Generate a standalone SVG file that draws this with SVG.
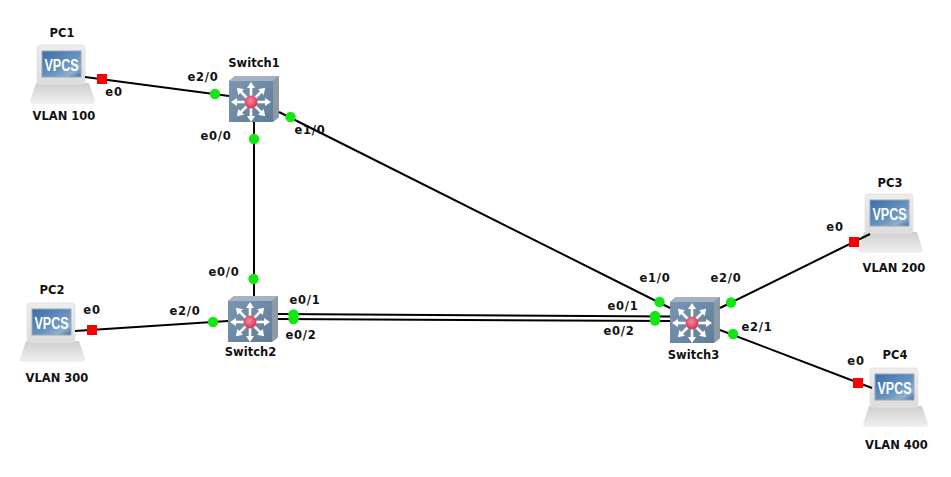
<svg xmlns="http://www.w3.org/2000/svg" width="951" height="477" viewBox="0 0 951 477">
<style>
text{font-family:"DejaVu Sans","Liberation Sans",sans-serif;font-size:11.5px;font-weight:700;fill:#111;text-anchor:middle}
.p{letter-spacing:.8px}
.vp{font-family:"Liberation Sans",sans-serif;font-size:16px;fill:#fff;letter-spacing:0}
.l{stroke:#000;stroke-width:2;fill:none}
.g{fill:#14e614}
.r{fill:#f00}
</style>
<defs>
<linearGradient id="scr" x1="0" y1="0" x2="1" y2="1"><stop offset="0" stop-color="#3a6ea6"/><stop offset=".6" stop-color="#6b96c2"/><stop offset=".8" stop-color="#8fb0d0"/><stop offset="1" stop-color="#3e6d9f"/></linearGradient>
<linearGradient id="mon" x1="0" y1="0" x2="0" y2="1"><stop offset="0" stop-color="#ededed"/><stop offset="1" stop-color="#dcdcdc"/></linearGradient>
<linearGradient id="bas" x1="0" y1="0" x2="0" y2="1"><stop offset="0" stop-color="#cfcfcf"/><stop offset="1" stop-color="#f0f0f0"/></linearGradient>
<linearGradient id="fac" x1="0" y1="0" x2="1" y2="1"><stop offset="0" stop-color="#7b96b0"/><stop offset="1" stop-color="#5f7d99"/></linearGradient>
<radialGradient id="led" cx=".45" cy=".4" r=".6"><stop offset="0" stop-color="#f58a9e"/><stop offset="1" stop-color="#d8304f"/></radialGradient>
<g id="ar"><path d="M-1.300 0H1.300V-15H-1.300Z" fill="#fff"/><path d="M0 -20L4 -14H-4Z" fill="#fff"/></g>
<g id="pc">
<path d="M6 38H59L65 56Q65 59 61 59H4Q0 59 0 56Z" fill="url(#bas)"/>
<rect x="7" y="0" width="48" height="39" rx="3" fill="url(#mon)" stroke="#e4e4e4"/>
<rect x="12" y="6" width="39" height="26" fill="url(#scr)" stroke="#9aa9b5"/>
<text class="vp" x="31.500" y="25.500" textLength="34" lengthAdjust="spacingAndGlyphs">VPCS</text>
</g>
<g id="sw">
<path d="M0 5L6 0H50V41L44 46H0Z" fill="#7f8f9f"/>
<path d="M0 5L6 0H50L44 5Z" fill="#a3b3c3"/>
<path d="M44 5L50 0V41L44 46Z" fill="#8d99a5"/>
<rect x="0" y="5" width="44" height="41" fill="url(#fac)"/>
<g transform="translate(22 26)">
<use href="#ar"/><use href="#ar" transform="rotate(45)"/><use href="#ar" transform="rotate(90)"/><use href="#ar" transform="rotate(135)"/><use href="#ar" transform="rotate(180)"/><use href="#ar" transform="rotate(225)"/><use href="#ar" transform="rotate(270)"/><use href="#ar" transform="rotate(315)"/>
<circle r="6.500" fill="url(#led)"/>
</g>
</g>
</defs>
<rect width="951" height="477" fill="#fff"/>
<g id="PC1"><use href="#pc" x="30" y="45"/><text x="62" y="37">PC1</text><text x="64" y="120">VLAN 100</text></g>
<g id="PC2"><use href="#pc" x="20" y="303"/><text x="52" y="294">PC2</text><text x="57" y="382">VLAN 300</text></g>
<g id="PC3"><use href="#pc" x="858" y="194"/><text x="890" y="187">PC3</text><text x="894" y="272">VLAN 200</text></g>
<g id="PC4"><use href="#pc" x="863" y="368"/><text x="895" y="359">PC4</text><text x="896.500" y="449">VLAN 400</text></g>
<g id="Switch1"><use href="#sw" x="229" y="76"/><text x="254" y="67">Switch1</text></g>
<g id="Switch2"><use href="#sw" x="228" y="296"/><text x="250.500" y="356">Switch2</text></g>
<g id="Switch3"><use href="#sw" x="670" y="297"/><text x="693.500" y="359">Switch3</text></g>
<g id="connectors">
<path class="l" d="M85 77L229 96"/>
<path class="l" d="M254 122V296"/>
<path class="l" d="M279 112L670 308"/>
<path class="l" d="M75 331L228 321"/>
<path class="l" d="M278 314L670 316.500"/>
<path class="l" d="M278 319L670 321"/>
<path class="l" d="M720 308L870 234"/>
<path class="l" d="M720 330L872 388"/>
</g>
<g id="ports">
<rect class="r" x="97" y="74" width="10" height="10"/><text class="p" x="114" y="96">e0</text>
<circle class="g" cx="215" cy="94" r="5.200"/><text class="p" x="203" y="81">e2/0</text>
<circle class="g" cx="290.500" cy="117" r="5.200"/><text class="p" x="310" y="134">e1/0</text>
<circle class="g" cx="254" cy="139" r="5.200"/><text class="p" x="216" y="140">e0/0</text>
<circle class="g" cx="253.500" cy="279" r="5.200"/><text class="p" x="224" y="276">e0/0</text>
<rect class="r" x="87" y="325" width="10" height="10"/><text class="p" x="92" y="314">e0</text>
<circle class="g" cx="213" cy="322" r="5.200"/><text class="p" x="185" y="315">e2/0</text>
<circle class="g" cx="293.500" cy="314.500" r="5.200"/><text class="p" x="305" y="304">e0/1</text>
<circle class="g" cx="293.500" cy="319" r="5.200"/><text class="p" x="301" y="339">e0/2</text>
<circle class="g" cx="659.500" cy="302" r="5.200"/><text class="p" x="655" y="282">e1/0</text>
<circle class="g" cx="655" cy="316" r="5.200"/><text class="p" x="623" y="310">e0/1</text>
<circle class="g" cx="655" cy="320.500" r="5.200"/><text class="p" x="619" y="335">e0/2</text>
<circle class="g" cx="731" cy="302.500" r="5.200"/><text class="p" x="726" y="282">e2/0</text>
<circle class="g" cx="733" cy="334" r="5.200"/><text class="p" x="757" y="331">e2/1</text>
<rect class="r" x="849" y="237" width="10" height="10"/><text class="p" x="835" y="231">e0</text>
<rect class="r" x="853" y="378" width="10" height="10"/><text class="p" x="856" y="365">e0</text>
</g>
</svg>
